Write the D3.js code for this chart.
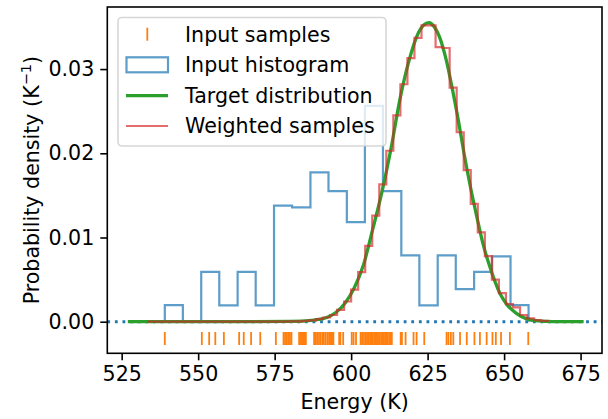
<!DOCTYPE html>
<html>
<head>
<meta charset="utf-8">
<script src="https://cdn.jsdelivr.net/npm/d3@7"></script>
<style>
  body { margin: 0; background: #fff; }
  text { font-family: "DejaVu Sans", sans-serif; fill: #000; }
  .axis text { font-size: 20.6px; }
  .axis path, .axis line { stroke: #000; stroke-width: 1.6px; }
</style>
</head>
<body>
<div id="chart"></div>
<script>
//Input samples (rug), energies in K
let samples = [539.1,
  551.2, 553.6, 555.6, 558.4, 563.4, 564.9, 567.3, 570.3,
  575.4, 577.9, 578.4, 578.9, 579.4, 580.0, 580.5,
  583.0, 583.3, 583.7, 584.0, 584.4, 584.8, 585.2,
  587.9, 588.4, 588.9, 589.5, 590.0, 590.6, 591.1, 591.7, 592.3,
  592.8, 593.2, 593.6, 593.9, 594.2, 596.1, 596.5, 597.4,
  600.2, 600.8, 601.6, 603.1, 603.6, 604.2,
  604.8, 605.2, 605.7, 606.2, 606.6, 607.0, 607.5, 607.9, 608.4, 608.8, 609.3, 609.8, 610.2,
  610.7, 611.1, 611.6, 612.0, 612.5, 612.9, 613.3, 616.2,
  616.6, 617.8, 620.4, 621.4, 623.9,
  631.2, 631.8, 632.6, 633.4, 635.6, 637.8,
  640.3, 642.1, 644.3, 646.2, 647.3, 649.0, 651.9, 657.9];

//Bin edges of the input histogram
let histEdges = [539.1, 545.0, 551.0, 556.9, 562.9, 568.8, 574.8, 580.7, 586.7, 592.6, 598.6,
  604.5, 610.4, 616.4, 622.3, 628.3, 634.2, 640.2, 646.1, 652.1, 658.0];

//Target distribution
let targetE = [527, 560, 580, 588, 592, 595, 598, 601, 604, 607, 610, 613, 616, 619, 622, 624,
  625.5, 627, 629, 631, 633, 635, 637, 639, 641, 643, 645, 647, 649, 651, 654, 657, 661, 666, 676];
let targetP = [0, 0, 0.00003, 0.0002, 0.0005, 0.0011, 0.0022, 0.0040, 0.0067, 0.0109, 0.0153, 0.0205,
  0.0265, 0.0311, 0.0343, 0.0353, 0.0355, 0.0351, 0.0337, 0.0312, 0.0278, 0.0240, 0.0198, 0.0160,
  0.0126, 0.0094, 0.0069, 0.0048, 0.0031, 0.0020, 0.0010, 0.0004, 0.0001, 0.00002, 0];

//Weighted samples histogram
let weightedEdges = [533.3, 535.6, 537.9, 540.2, 542.5, 544.8, 547.1, 549.4, 551.7, 554.0, 556.3,
  558.6, 560.9, 563.2, 565.5, 567.8, 570.1, 572.4, 574.7, 577.0, 579.3, 581.6, 583.9, 586.2, 588.5,
  590.8, 593.1, 595.4, 597.7, 600.0, 602.3, 604.6, 606.9, 609.2, 611.5, 613.8, 616.1, 618.4, 620.7,
  623.0, 625.3, 627.6, 629.9, 632.2, 634.5, 636.8, 639.1, 641.4, 643.7, 646.0, 648.3, 650.6, 652.9,
  655.2, 657.5, 659.8, 662.1, 664.4];
let weightedP = [0, 0, 0, 0, 0, 0, 0, 0, 0, 0, 0, 0, 0, 0, 0, 0, 0, 0, 0.00001, 0.00002,
  0.00003, 0.00005, 0.0001, 0.00015, 0.0003, 0.0005, 0.0008, 0.0014, 0.0024, 0.0038,
  0.0059, 0.0090, 0.0126, 0.0163, 0.0203, 0.0245, 0.0282, 0.0313, 0.0337, 0.0352,
  0.0352, 0.0326, 0.0325, 0.0278, 0.0225, 0.0180, 0.0140, 0.0106, 0.0078, 0.0050,
  0.0034, 0.0021, 0.0017, 0.0008, 0.0004, 0.0002, 0.0001];

let xTicks = [525, 550, 575, 600, 625, 650, 675];
let yTicks = [0, 0.01, 0.02, 0.03];
let legendLabels = ['Input samples', 'Input histogram', 'Target distribution', 'Weighted samples'];

let width = 608, height = 419;
let plot = {left: 107.3, right: 602, top: 7, bottom: 353.3};

let svg = d3.select('#chart').append('svg').attr('width', width).attr('height', height);

let x = d3.scaleLinear().domain([520.3, 682.0]).range([plot.left, plot.right]);
let y = d3.scaleLinear().domain([-0.00375, 0.03737]).range([plot.bottom, plot.top]);

//Step outline of a histogram, like matplotlib histtype='step'
function stepPoints(edges, heights) {
  let pts = [[edges[0], 0]];
  heights.forEach((h, i) => {
    pts.push([edges[i], h]);
    pts.push([edges[i + 1], h]);
  });
  pts.push([edges[edges.length - 1], 0]);
  return pts;
}
let line = d3.line().x(d => x(d[0])).y(d => y(d[1]));

svg.append('clipPath').attr('id', 'clip').append('rect')
  .attr('x', plot.left).attr('y', plot.top)
  .attr('width', plot.right - plot.left).attr('height', plot.bottom - plot.top);
let g = svg.append('g').attr('clip-path', 'url(#clip)');

//Input histogram (density)
let bins = d3.bin().domain([histEdges[0], histEdges[histEdges.length - 1]])
  .thresholds(histEdges.slice(1, -1))(samples);
let histDensity = bins.map(b => b.length / (samples.length * (b.x1 - b.x0)));
g.append('path').attr('d', line(stepPoints(histEdges, histDensity)))
  .attr('fill', 'none').attr('stroke', '#1f77b4').attr('stroke-opacity', 0.72).attr('stroke-width', 2.2);

//Zero line
g.append('line').attr('x1', plot.left).attr('x2', plot.right).attr('y1', y(0)).attr('y2', y(0))
  .attr('stroke', '#1f77b4').attr('stroke-width', 3).attr('stroke-dasharray', '2.8,4.8');

//Target distribution
g.append('path').attr('d', d3.line().x((d, i) => x(targetE[i])).y(d => y(d)).curve(d3.curveMonotoneX)(targetP))
  .attr('fill', 'none').attr('stroke', '#2ca02c').attr('stroke-width', 3.3);

//Weighted samples
g.append('path').attr('d', line(stepPoints(weightedEdges, weightedP)))
  .attr('fill', 'none').attr('stroke', '#d62728').attr('stroke-opacity', 0.68).attr('stroke-width', 2.2);

//Rug of input samples
g.selectAll('.rug').data(samples).enter().append('line').attr('class', 'rug')
  .attr('x1', d => x(d)).attr('x2', d => x(d))
  .attr('y1', y(-0.002) - 6.5).attr('y2', y(-0.002) + 6.5)
  .attr('stroke', '#ff7f0e').attr('stroke-width', 1.8);

//Axes
svg.append('g').attr('class', 'axis').attr('transform', 'translate(0,' + plot.bottom + ')')
  .call(d3.axisBottom(x).tickValues(xTicks).tickSize(7).tickPadding(6).tickFormat(d3.format('d')))
  .call(a => a.select('.domain').remove());
svg.append('g').attr('class', 'axis').attr('transform', 'translate(' + plot.left + ',0)')
  .call(d3.axisLeft(y).tickValues(yTicks).tickSize(7).tickPadding(6).tickFormat(d3.format('.2f')))
  .call(a => a.select('.domain').remove());
svg.append('rect').attr('x', plot.left).attr('y', plot.top)
  .attr('width', plot.right - plot.left).attr('height', plot.bottom - plot.top)
  .attr('fill', 'none').attr('stroke', '#000').attr('stroke-width', 1.6);

//Axis labels
svg.append('text').attr('x', (plot.left + plot.right) / 2).attr('y', 409)
  .attr('text-anchor', 'middle').style('font-size', '20.6px').text('Energy (K)');
let ylab = svg.append('text').attr('transform', 'translate(39,' + ((plot.top + plot.bottom) / 2) + ') rotate(-90)')
  .attr('text-anchor', 'middle').style('font-size', '20.6px');
ylab.append('tspan').text('Probability density (K');
ylab.append('tspan').attr('dy', -8).style('font-size', '14.5px').text('\u22121');
ylab.append('tspan').attr('dy', 8).text(')');

//Legend
let legend = svg.append('g');
legend.append('rect').attr('x', 118).attr('y', 17.5).attr('width', 268).attr('height', 128.5).attr('rx', 4)
  .attr('fill', '#fff').attr('fill-opacity', 0.8).attr('stroke', '#cccccc').attr('stroke-opacity', 0.8).attr('stroke-width', 1.6);
let rowY = [34.2, 64.8, 95.7, 126];
legend.append('line').attr('x1', 147.3).attr('x2', 147.3).attr('y1', rowY[0] - 6.5).attr('y2', rowY[0] + 6.5)
  .attr('stroke', '#ff7f0e').attr('stroke-width', 1.8);
legend.append('rect').attr('x', 126.5).attr('y', rowY[1] - 7.5).attr('width', 41.5).attr('height', 15)
  .attr('fill', 'none').attr('stroke', '#1f77b4').attr('stroke-opacity', 0.72).attr('stroke-width', 2.2);
legend.append('line').attr('x1', 126).attr('x2', 168).attr('y1', rowY[2]).attr('y2', rowY[2])
  .attr('stroke', '#2ca02c').attr('stroke-width', 3.3);
legend.append('line').attr('x1', 126).attr('x2', 168).attr('y1', rowY[3]).attr('y2', rowY[3])
  .attr('stroke', '#d62728').attr('stroke-opacity', 0.68).attr('stroke-width', 2.2);
legendLabels.forEach((l, i) => {
  legend.append('text').attr('x', 185).attr('y', rowY[i] + 7.4).style('font-size', '20.6px').text(l);
});
</script>
</body>
</html>
